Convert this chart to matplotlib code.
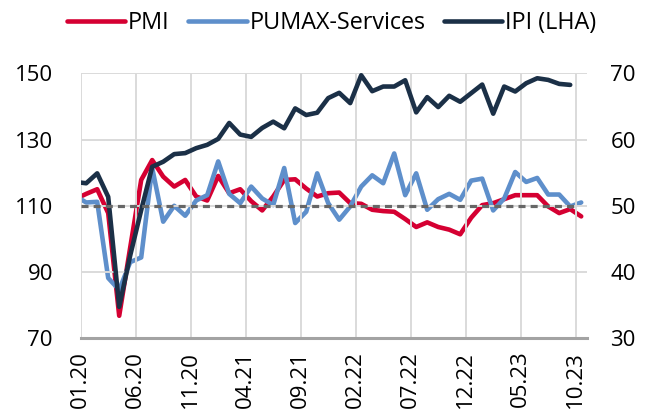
"""
PMI / PUMAX-Services / IPI 月度走势图（双轴）
"""

import matplotlib
matplotlib.use('Agg')
import matplotlib.pyplot as plt
import numpy as np

plt.rcParams['font.family'] = ['Open Sans', 'DejaVu Sans']

# 月度数据，从 2019.12 开始（第一个点落在坐标轴左侧，被裁掉）
pmi = [51.0,
       51.8, 52.5, 48.9, 33.4, 43.7, 53.9, 56.9, 54.4, 52.9, 53.9, 51.4, 50.8,
       54.5, 51.9, 52.5, 50.7, 49.3, 51.4, 53.9, 54.0, 52.6, 51.4, 51.9, 52.0,
       50.4, 50.3, 49.4, 49.2, 49.1, 48.0, 46.8, 47.5, 46.8, 46.4, 45.7, 48.2,
       50.1, 50.4, 51.0, 51.6, 51.6, 51.6, 49.9, 48.9, 49.5, 48.4]
pumax = [51.5,
         50.5, 50.6, 39.1, 37.3, 41.5, 42.2, 55.7, 47.6, 50.0, 48.5, 50.8, 51.6,
         56.7, 51.8, 50.4, 52.9, 51.1, 50.1, 55.7, 47.4, 49.1, 54.9, 50.4, 47.9,
         49.9, 52.9, 54.6, 53.4, 57.9, 51.6, 54.9, 49.4, 51.0, 51.8, 50.9, 53.8,
         54.1, 49.3, 51.1, 55.1, 53.6, 54.2, 51.7, 51.7, 49.9, 50.5]
ipi = [117.2,
       116.8, 119.8, 112.7, 79.5, 95.0, 108.7, 121.8, 123.3, 125.6, 125.9, 127.4, 128.4,
       130.2, 135.0, 131.5, 130.8, 133.5, 135.4, 133.4, 139.4, 137.4, 138.1, 142.5, 144.1,
       141.0, 149.4, 144.6, 146.0, 146.0, 147.9, 138.2, 142.8, 139.8, 143.2, 141.4, 144.0,
       146.6, 137.8, 146.0, 144.5, 147.0, 148.5, 148.0, 146.8, 146.5]

tick_labels = ['01.20', '06.20', '11.20', '04.21', '09.21',
               '02.22', '07.22', '12.22', '05.23', '10.23']
ref_level = 110   # 左轴 110 = 右轴 50

# 颜色
c_pmi = '#D50032'
c_pumax = '#5E8FCB'
c_ipi = '#1B3047'

fig = plt.figure(figsize=(6.54, 4.19), dpi=100)
ax = fig.add_axes([0.1234, 0.1926, 0.7737, 0.6325])
ax2 = ax.twinx()

# 月中位置：2020.01 -> 0.5
x_pmi = np.arange(len(pmi)) - 0.5
x_pumax = np.arange(len(pumax)) - 0.5
x_ipi = np.arange(len(ipi)) - 0.5
tick_pos = np.arange(len(tick_labels)) * 5

line_kw = dict(linewidth=3.3, solid_capstyle='round', solid_joinstyle='round')
l1, = ax2.plot(x_pmi, pmi, color=c_pmi, label='PMI', zorder=2, **line_kw)
l2, = ax2.plot(x_pumax, pumax, color=c_pumax, label='PUMAX-Services', zorder=3, **line_kw)
l3, = ax.plot(x_ipi, ipi, color=c_ipi, label='IPI (LHA)', zorder=4, **line_kw)

# 把左轴放到右轴上面
ax.set_zorder(ax2.get_zorder() + 1)
ax.patch.set_visible(False)

# 50 / 110 参考线
ax.hlines(ref_level, tick_pos[0], tick_pos[-1], colors='#666666',
          linestyles=(0, (2.2, 1.6)), linewidth=2.3, zorder=5)

ax.set_xlim(0, 46)
ax.set_ylim(70, 150)
ax2.set_ylim(30, 70)
ax.set_yticks([70, 90, 110, 130, 150])
ax2.set_yticks([30, 40, 50, 60, 70])
ax.set_xticks(tick_pos)
ax.set_xticklabels(tick_labels, rotation=90)

ax.tick_params(axis='y', length=0, pad=20, labelsize=16)
ax2.tick_params(axis='y', length=0, pad=17, labelsize=16)
ax.tick_params(axis='x', length=0, pad=9, labelsize=16)

# 网格
ax2.grid(False)
ax.grid(True, color='#DADADA', linewidth=1.4)
ax.set_axisbelow(True)
for a in (ax, ax2):
    for s in ('top', 'left', 'right', 'bottom'):
        a.spines[s].set_visible(False)
ax.spines['bottom'].set_visible(True)
ax.spines['bottom'].set_color('#A3A3A3')
ax.spines['bottom'].set_linewidth(2.2)

fig.legend(handles=[l1, l2, l3], loc='center', bbox_to_anchor=(0.507, 0.945),
           ncol=3, frameon=False, fontsize=16.8, handlelength=2.5,
           handletextpad=0.12, columnspacing=0.8)

plt.savefig('out.png', dpi=100)
plt.close()
